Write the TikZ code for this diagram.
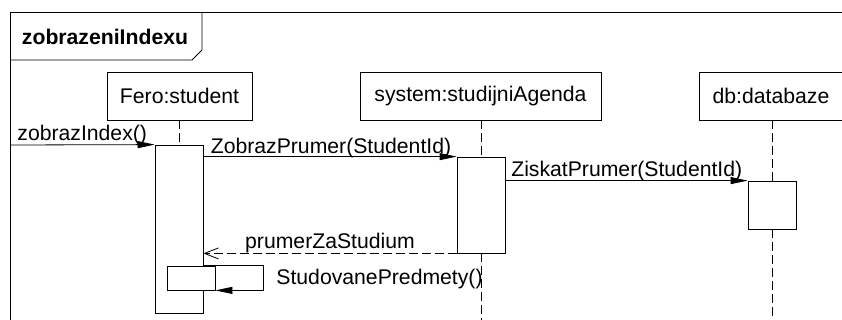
\documentclass[tikz,border=0pt]{standalone}
\usepackage{fontspec}
\setmainfont{Liberation Sans}
\usetikzlibrary{arrows.meta}

\tikzset{
  head/.style={draw, minimum height=48pt, inner sep=0pt},
  actbox/.style={draw, fill=white, minimum width=48pt, inner sep=0pt},
  lifeline/.style={dash pattern=on 9pt off 4pt},
  msg/.style={-{Triangle[length=17pt,width=7pt]}},
  reply/.style={dash pattern=on 9pt off 4pt, -{Straight Barb[length=14pt,width=11pt]}},
  lbl/.style={anchor=base west, inner sep=0pt},
}

\begin{document}
\begin{tikzpicture}[x=1pt, y=-1pt, line width=0.8pt, font=\fontsize{21.2}{25}\selectfont]
	\useasboundingbox (0,0) rectangle (842,320);
	% Frame and its title tab
	\draw (842,12) -- (10,12) -- (10,320);
	\draw (10,60) -- (192,60) -- (202,50) -- (202,12);
	\node[font=\fontsize{21.2}{25}\selectfont\bfseries] (title) at (105,37) {zobrazeniIndexu};
	\coordinate (entry) at (10,145);
	\coordinate (bottom) at (0,320);

	% Lifeline heads
	\node[head, minimum width=145pt] (fero) at (179.5,96) {Fero:student};
	\node[head, minimum width=241pt] (system) at (480.5,96) {system:studijniAgenda};
	\node[head, minimum width=144pt] (db) at (771,96) {db:databaze};

	% Activations
	\node[actbox, minimum height=168pt] (feroAct) at (179,229) {};
	\node[actbox, minimum height=96pt] (sysAct) at (481,205) {};
	\node[actbox, minimum height=48pt] (dbAct) at (772,205) {};

	% Lifelines
	\draw[lifeline] (fero.south -| feroAct.north) -- (feroAct.north);
	\draw[lifeline] (system.south -| sysAct.north) -- (sysAct.north);
	\draw[lifeline] (sysAct.south) -- (sysAct.south |- bottom);
	\draw[lifeline] (db.south -| dbAct.north) -- (dbAct.north);
	\draw[lifeline] (dbAct.south) -- (dbAct.south |- bottom);

	% nested activation on top of the lifeline
	\node[actbox, minimum height=24pt] (nestAct) at (191,278) {};

	% Messages
	\draw[msg] (entry) -- (feroAct.north west)
		node[lbl, pos=0, xshift=7pt, yshift=4pt] (m1) {zobrazIndex()};
	\draw[msg] (feroAct.east |- sysAct.north) -- (sysAct.north west)
		node[lbl, pos=0, xshift=7pt, yshift=3.5pt] (m2) {ZobrazPrumer(StudentId)};
	\draw[msg] (sysAct.east |- dbAct.north) -- (dbAct.north west)
		node[lbl, pos=0, xshift=5.5pt, yshift=4pt] (m3) {ZiskatPrumer(StudentId)};
	\draw[reply] (sysAct.south west) -- (feroAct.east |- sysAct.south)
		node[midway, anchor=base, inner sep=0pt, yshift=5pt] (r1) {prumerZaStudium};
	\draw[msg] (feroAct.east |- nestAct.north) -| ([xshift=48pt]nestAct.south east) -- (nestAct.south east);
	\node[anchor=west, inner sep=0pt] (m4) at (276,279) {StudovanePredmety()};
\end{tikzpicture}
\end{document}
